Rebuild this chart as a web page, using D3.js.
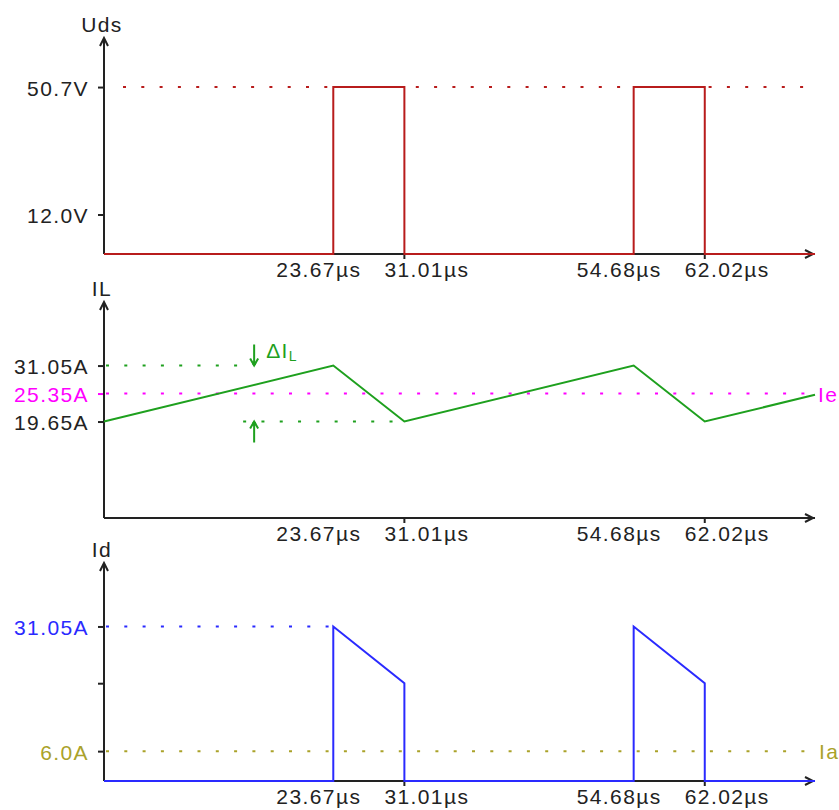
<!DOCTYPE html>
<html>
<head>
<meta charset="utf-8">
<script src="https://cdn.jsdelivr.net/npm/d3@7"></script>
<style>
  body { margin: 0; background: #fff; }
  svg text { font-family: "Liberation Sans", Arial, sans-serif; font-size: 21px; letter-spacing: 1.4px; }
</style>
</head>
<body>
<div id="chart"></div>
<script>
/* DATA */

// switching instants (µs)
const timeTicks = [23.67, 31.01, 54.68, 62.02]
const riseTimes = [23.67, 54.68]
const fallTimes = [31.01, 62.02]
const tEnd = 73.4

// Uds waveform
const udsT = [0, 23.67, 23.67, 31.01, 31.01, 54.68, 54.68, 62.02, 62.02, 73.4]
const udsV = [0, 0, 50.7, 50.7, 0, 0, 50.7, 50.7, 0, 0]
const udsTicks = [50.7, 12.0]
const udsLabels = ["50.7V", "12.0V"]
const udsMax = 65.6

// IL waveform
const ilT = [0, 23.67, 31.01, 54.68, 62.02, 73.4]
const ilV = [19.65, 31.05, 19.65, 31.05, 19.65, 25.1]
const ilTicks = [31.05, 25.35, 19.65]
const ilLabels = ["31.05A", "25.35A", "19.65A"]
const ilMax = 44.0
const ieValue = 25.35
const deltaArrowT = 15.5

// Id waveform
const idT = [0, 23.67, 23.67, 31.01, 31.01, 54.68, 54.68, 62.02, 62.02, 73.4]
const idV = [0, 0, 31.05, 19.65, 0, 0, 31.05, 19.65, 0, 0]
const idTicks = [31.05, 19.65, 6.0]
const idLabels = ["31.05A", "", "6.0A"]
const idMax = 43.8
const iaValue = 6.0

/* COLORS */
const AXIS = "#222"
const RED = "#b81c1c"
const GREEN = "#1ea01e"
const MAGENTA = "#ff00ff"
const BLUE = "#2a2aff"
const OLIVE = "#aaa22a"

const width = 839, height = 810

const svg = d3.select("#chart")
    .append("svg")
    .attr("width", width)
    .attr("height", height)

const x = d3.scaleLinear()
    .domain([0, tEnd])
    .range([104, 815])

function fmtTime(t) { return t.toFixed(2) + "µs" }

// draw one panel: axes with arrows, y ticks, time labels
function drawPanel(opt) {
    const y = d3.scaleLinear().domain([0, opt.yMax]).range([opt.base, opt.top])
    const g = svg.append("g")

    // y ticks via d3 axis
    const ay = g.append("g")
        .attr("transform", "translate(" + x(0) + ",0)")
        .call(d3.axisLeft(y).tickValues(opt.ticks).tickSize(6).tickPadding(9)
            .tickFormat((d, i) => opt.labels[i]))
    ay.select(".domain").remove()
    ay.selectAll("line").attr("stroke", (d, i) => opt.tickColors ? opt.tickColors[i] : AXIS).attr("stroke-width", 2)
    ay.selectAll("text")
        .attr("font-size", null).attr("font-family", null)
        .attr("dy", "0.4em")
        .attr("fill", (d, i) => opt.labelColors[i])

    // axis lines
    g.append("line")
        .attr("x1", x(0)).attr("x2", x(0))
        .attr("y1", y(0)).attr("y2", y(opt.yMax))
        .attr("stroke", AXIS).attr("stroke-width", 2)
    g.append("line")
        .attr("x1", x(0)).attr("x2", x(tEnd))
        .attr("y1", y(0)).attr("y2", y(0))
        .attr("stroke", AXIS).attr("stroke-width", 2)

    // arrow heads
    g.append("path")
        .attr("d", `M${x(0) - 4},${y(opt.yMax) + 8}L${x(0)},${y(opt.yMax)}L${x(0) + 4},${y(opt.yMax) + 8}`)
        .attr("fill", "none").attr("stroke", AXIS).attr("stroke-width", 2)
    g.append("path")
        .attr("d", `M${x(tEnd) - 10},${y(0) - 4}L${x(tEnd) - 2},${y(0)}L${x(tEnd) - 10},${y(0) + 4}`)
        .attr("fill", "none").attr("stroke", AXIS).attr("stroke-width", 2)

    // axis title
    g.append("text")
        .attr("x", x(0) - 2).attr("y", y(opt.yMax) - 6)
        .attr("text-anchor", "middle")
        .attr("fill", AXIS)
        .text(opt.title)

    // small ticks below axis at the fall instants
    g.selectAll(".xt").data(fallTimes).enter().append("line")
        .attr("x1", d => x(d)).attr("x2", d => x(d))
        .attr("y1", y(0)).attr("y2", y(0) + 5)
        .attr("stroke", AXIS).attr("stroke-width", 2)

    // time labels
    g.selectAll(".tl").data(timeTicks).enter().append("text")
        .attr("x", d => riseTimes.includes(d) ? x(d) + 28 : x(d) - 20)
        .attr("y", y(0) + 23)
        .attr("text-anchor", d => riseTimes.includes(d) ? "end" : "start")
        .attr("fill", AXIS)
        .text(fmtTime)

    return { g, y }
}

function dotted(g, y, v, t0, t1, color, x0Shift, x1Shift) {
    g.append("line")
        .attr("x1", x(t0) + (x0Shift || 0)).attr("x2", x(t1) + (x1Shift || 0))
        .attr("y1", y(v)).attr("y2", y(v))
        .attr("stroke", color).attr("stroke-width", 2)
        .attr("stroke-dasharray", "3,15.3")
}

function signal(g, y, ts, vs, color) {
    const line = d3.line().x(d => x(d[0])).y(d => y(d[1]))
    g.append("path")
        .attr("d", line(ts.map((t, i) => [t, vs[i]])))
        .attr("fill", "none").attr("stroke", color).attr("stroke-width", 2)
}

/* Uds */
const p1 = drawPanel({ title: "Uds", base: 254, top: 38, yMax: udsMax, ticks: udsTicks, labels: udsLabels, labelColors: [AXIS, AXIS] })
dotted(p1.g, p1.y, udsV[2], 0, tEnd, RED, 19, 0)
signal(p1.g, p1.y, udsT, udsV, RED)

/* IL */
const p2 = drawPanel({ title: "IL", base: 518, top: 302, yMax: ilMax, ticks: ilTicks, labels: ilLabels,
    labelColors: [AXIS, MAGENTA, AXIS], tickColors: [AXIS, MAGENTA, AXIS] })
dotted(p2.g, p2.y, ieValue, 0, tEnd, MAGENTA, 2, -6)
dotted(p2.g, p2.y, ilV[1], 0, deltaArrowT, GREEN, 2, -4)
dotted(p2.g, p2.y, ilV[0], deltaArrowT, ilT[2], GREEN, -11, 0)
signal(p2.g, p2.y, ilT, ilV, GREEN)
p2.g.append("text")
    .attr("x", x(tEnd) + 3).attr("y", p2.y(ieValue) + 8)
    .attr("fill", MAGENTA)
    .text("Ie")

// ΔIL annotation arrows
const ax = x(deltaArrowT)
const yTop = p2.y(ilV[1]), yBot = p2.y(ilV[0])
p2.g.append("path")
    .attr("d", `M${ax},${yTop - 21}L${ax},${yTop}M${ax - 4},${yTop - 7}L${ax},${yTop}L${ax + 4},${yTop - 7}`)
    .attr("fill", "none").attr("stroke", GREEN).attr("stroke-width", 2)
p2.g.append("path")
    .attr("d", `M${ax},${yBot + 21}L${ax},${yBot}M${ax - 4},${yBot + 7}L${ax},${yBot}L${ax + 4},${yBot + 7}`)
    .attr("fill", "none").attr("stroke", GREEN).attr("stroke-width", 2)
p2.g.append("circle").attr("cx", ax).attr("cy", yTop - 2).attr("r", 2).attr("fill", GREEN)
p2.g.append("circle").attr("cx", ax).attr("cy", yBot + 2).attr("r", 2).attr("fill", GREEN)
const dl = p2.g.append("text")
    .attr("x", ax + 12).attr("y", yTop - 8)
    .attr("fill", GREEN)
dl.append("tspan").text("ΔI")
dl.append("tspan").attr("font-size", "14px").attr("dy", 3).text("L")

/* Id */
const p3 = drawPanel({ title: "Id", base: 781, top: 563, yMax: idMax, ticks: idTicks, labels: idLabels, labelColors: [BLUE, AXIS, OLIVE] })
dotted(p3.g, p3.y, idV[2], 0, idT[2], BLUE, 2, 0)
dotted(p3.g, p3.y, iaValue, 0, tEnd, OLIVE, 2, -6)
signal(p3.g, p3.y, idT, idV, BLUE)
p3.g.append("text")
    .attr("x", x(tEnd) + 4).attr("y", p3.y(iaValue) + 8)
    .attr("fill", OLIVE)
    .text("Ia")
</script>
</body>
</html>
